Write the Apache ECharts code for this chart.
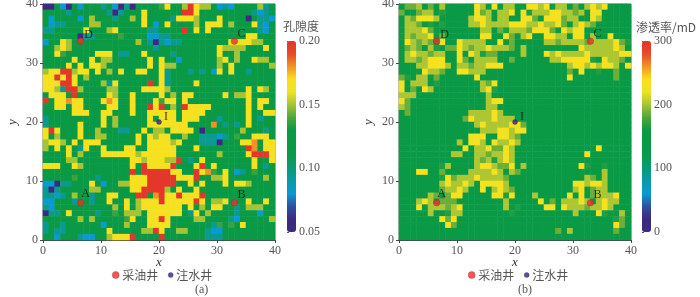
<!DOCTYPE html>
<html><head><meta charset="utf-8">
<style>html,body{margin:0;padding:0;background:#fff}#c{width:700px;height:297px}</style>
<script src="https://cdn.jsdelivr.net/npm/echarts@6/dist/echarts.min.js"></script>
</head><body><div id="c"></div>
<script>
// Cell classes, top row is y=39, 40 columns per row.
const porosityRows = [
"PP.BP.B... T.BPTP.... gy..LRyLL. BTB....LT.",
"....T..... .TPT...y.. ....RRy... ......TBT.",
".B....B.L. ..T..L.y.. ..TyyyL... y....P.TTB",
".BTT....LL .......y.B .y....L.yy y.L...yTB.",
"TT.....y.. .Ly.....TT ....R.y.y. .......TB.",
"......PTT. ...g....BB TT........ .....yy...",
"B..yL..... ......L.TP TBTT...... ..yyyyLL..",
"..LyL..... .........T .......... yLLLL...y.",
"..yg.....y yy.TT..y.. ..T....... y..L......",
".....y..y. LL......y. y..B...... Ly.L..yLL.",
"....y.y.yy L.......y. yLL....... L.y......L",
"LyyRRLyy.y .L.y..yy.. yT...T.T.B y.y..T....",
"yyRyRy.L.. .......... yT........ ..........",
"yyyRRy.... LTy.....R. yT....y... ..........",
"yyLTRRL... .LL....yyy yL........ .....y.yL.",
".yyy.R.... .yL..y.... y.L.yy.... .y.LLy....",
"R.yyOyy... yOy..y...y gyy.y..... .....y.yy.",
"..yy.yy... .yy..y..Ry R.L.Ryyyy. .....y.y..",
".....yyy.. yy...y..yy yyy.yyyy.. .....y..yy",
"T......... y.L.....y. yyy.yyy... T....y.T..",
"T.....y... y.L.....yy yyyyy....O .T.T.y....",
"yRy...y..L ...TT..y.L L.yyyy.P.. ....L...T.",
"y.L...y..L L.....y.yL yy..L..TTT BT.g..yyy.",
"LyyL.y.yyy ......y.yy yyLy...TTT P...yyO.yy",
"L.y.y.Ty.. y...yy..yy yyy...y... .....RO.yy",
"....y.L... yyyyyyLyyy yyy....... L....yRRRy",
"....LL.... .....yyLyy yLLR.T.y.. ......y..y",
"yyy..yL... .....y.Ryy yyR...yR.y ......y.T.",
".......... .....R.RRR RRyy..RyOg .y.BT.g...",
".....g...T .....yyyRR RRRyyyR..L Ly......L.",
"BBPTT...y. B..LLyyyRR RRR..y.y.. .y.yyL....",
"TPT.....LL .....yyRRR RL.y..y... ..........",
"TTBT.L..T. .yy...RR.O RyyRyyyR.. ..........",
"BB...T..T. .y..y.Lyyy RyyyyyRy.L Ly...y..y.",
"TB........ ..L.y.Lyyy yyyy.y.L.y y..T.LLL..",
"PTT.y....T ..g.LLL.yy yyyy.Ty.L. ...T...B..",
"......L.L. ....gy..yy Ry....LL.. ..TB.....L",
"T..T...... B...L...yy yy.......T g.g.y.....",
"T.TT...... .y.....LLR y..LL...TB B.........",
"..B...TBB. .LyyyR.... R.......TT T........."
];
const permeabilityRows = [
".ggL.g.L.. ...yL.y.LL ..yyLy.LL. g.LyLy....",
"g..gLL.a.. ...ygL.LLy .yaLLLyyLL gL.yy.....",
".LgyyyL... ..LyyL.LL. .yyg.yyygL L..yL.....",
".LLg.a.a.. ..LLyLLLLy yyLLyLLyg. LyLg......",
".LLLyg.... ....LL.gaL LLgyyyg.yL yy........",
".LgLLy.g.. ....yy..yg .Ly..yyLL. yy.L..y...",
".yLgLg.y.. yLLLL..y.g .....LLgLL LLgLLLLyga",
".gLg.La.gg yLgLLyLLLg .L........ .yLLLLLyL.",
".LyLLgLL.. y.yLagg... .L...yLyLL LLyLLLLLyy",
".LLgLyyy.. yg.LLLL..g ......LLyy yyya.yLLg.",
"...LLyyyL. LLgLLyyy.. .........L yyLyLyyL.y",
"....yLLg.. yyLLL..... .........g .y..a..g..",
"ga.LL.g... ...y...... .........y .......g..",
"y.LLL.a... ....Lgy... .......... ..........",
"y.g.yL.... ....Lya... .......... ..........",
"LLL....... .....L.... .......... ..........",
"yg........ .....Lyy.. .......... ..........",
"Lg........ .....LL... .......... ..........",
".g........ ..LLLLyL.. .......... ..........",
".......... .gyLLLyLLL .......... ..........",
".......... ...LyLLLLy yg........ ..........",
".......... ....LLLyyL yy........ ..........",
".......... ..yyy..yyL g......... ..........",
".......... L.yyL.yLLy L......... ..........",
".......... .y.LLyggyL .......... ....y.....",
".........L L..LLgLLyL .......... ..y.......",
".......... ...LgLaLyL .......... ..........",
".......aL. ...LyyLggy .L........ .ya..a....",
"...yy..g.. ..LLLLyL.L g......... .....L....",
".......ayg LLLyLLLLg. .......... ..Lg.L....",
".......LyL LyL.yyyyL. .......... yyLyyL....",
".......gLL yL..y.LyLg .......... Ly.gLL....",
".....Lg.gy y.....yyay ...L.....y .y.gLLLy..",
"...LyL.ggg ........L. ....y.g.LL LyL.LyLL..",
"...y.LLLgL y.......L. a....yy.yL LLgLLyL...",
".....L..aL L........a .......... L...ya..L.",
".......ygy .......... .......... .......ag.",
"........yg .......... .......... .......yg.",
".......... .......... .......g.L .......g..",
".......... .......... .......... .........."
];
const porosityLevels = {P:0.055,B:0.08,T:0.095,'.':0.118,g:0.137,L:0.15,y:0.167,O:0.18,R:0.198};
const permeabilityLevels = {'.':135,a:166,g:186,L:202,y:232};
const axisMax = 40;
const cellIndex = Array.from({length:40},(_,i)=>i);
const producers = [["A",6.5,6.3],["B",33,6.3],["C",33,33.7],["D",6.5,33.7]];
const injectors = [["I",20,20]];
const porosityRange = [0.05,0.20];
const permeabilityRange = [0,300];
const rampColors = ['#3b2a80','#3b2a80','#2f4e9f','#0a9ad2','#0a9aa8','#0a9a78','#0a9a4a','#0a9a44','#0a9a44','#4fa63c','#a5c433','#eee324','#f8e01e','#f29225','#e64a2a','#e4322b'];

const labelOffsets = {A:[5,-9],B:[7,-8],C:[7,-7],D:[8,-6],I:[7,-5]};
const serif = '"Liberation Serif","Noto Sans CJK SC",serif';
const cjk = '"Noto Sans CJK SC",serif';
const txt = '#555';
function cells(rows, levels){
  const out=[];
  rows.forEach((r,i)=>{ const s=r.replace(/ /g,''); for(let c=0;c<40;c++){ out.push([c,39-i,levels[s[c]]]); } });
  return out;
}
const panels=[
 {left:43,barLeft:287,legA:112,legB:168,rows:porosityRows,levels:porosityLevels,range:porosityRange,fmt:v=>v.toFixed(2),iv:0.05},
 {left:399,barLeft:642,legA:468,legB:524,rows:permeabilityRows,levels:permeabilityLevels,range:permeabilityRange,fmt:v=>String(v),iv:100}];
const grid=[],xAxis=[],yAxis=[],series=[],visualMap=[],legend=[];
const well=(name,list,color,size,ax,border)=>({type:'scatter',name,xAxisIndex:ax,yAxisIndex:ax,symbol:'circle',symbolSize:size,z:5,
  itemStyle:{color,borderColor:border,borderWidth:.4},
  label:{show:true,position:'inside',color:'#111',fontFamily:serif,fontSize:12,formatter:p=>p.data.name},
  data:list.map(w=>({name:w[0],value:[w[1],w[2]],label:{offset:labelOffsets[w[0]]}}))});
const axisCommon={type:'value',min:0,max:axisMax,interval:10,nameLocation:'middle',nameMoveOverlap:false,
  nameTextStyle:{fontFamily:serif,fontStyle:'italic',fontSize:13,color:'#333'},
  axisLine:{show:true,onZero:false,lineStyle:{color:'#444'}},axisTick:{show:true,length:3,lineStyle:{color:'#444'}},
  splitLine:{show:false}};
const legendItem=(name,left,size,border)=>({left,top:269,padding:0,icon:'circle',itemWidth:size,itemHeight:size,selectedMode:false,
  itemStyle:{borderWidth:.4,borderColor:border},
  data:[name],textStyle:{fontFamily:cjk,fontSize:12,color:txt,padding:[0,0,0,-2]}});
panels.forEach((p,i)=>{
  const g=i*2, a=i*3;
  grid.push({left:p.left,width:232,top:4,height:236,show:true,borderColor:'#777',borderWidth:1,backgroundColor:'#fff',outerBoundsMode:'none'});
  grid.push({left:p.barLeft,width:9,top:41,height:191,show:false,outerBoundsMode:'none'});
  // hidden band axes carry the heat cells
  xAxis.push({gridIndex:g,type:'category',data:cellIndex,show:false,position:'top'});
  yAxis.push({gridIndex:g,type:'category',data:cellIndex,show:false,position:'right'});
  // visible value axes carry the ticks and the wells
  xAxis.push(Object.assign({},axisCommon,{gridIndex:g,position:'bottom',name:'x',nameGap:16,
    axisLabel:{fontFamily:serif,fontSize:12,color:txt,margin:5,showMinLabel:true,showMaxLabel:true}}));
  yAxis.push(Object.assign({},axisCommon,{gridIndex:g,position:'left',name:'y',nameGap:24,
    axisLabel:{fontFamily:serif,fontSize:12,color:txt,margin:5,showMinLabel:true,showMaxLabel:true}}));
  // colour-bar scale
  xAxis.push({gridIndex:g+1,type:'value',show:false,min:0,max:1});
  yAxis.push({gridIndex:g+1,type:'value',position:'right',min:p.range[0],max:p.range[1],interval:p.iv,
    axisLine:{show:false},axisTick:{show:true,length:2,lineStyle:{color:'#555'}},splitLine:{show:false},
    axisLabel:{fontFamily:serif,fontSize:12,color:txt,margin:3,formatter:p.fmt,showMinLabel:true,showMaxLabel:true}});
  series.push({type:'heatmap',xAxisIndex:a,yAxisIndex:a,data:cells(p.rows,p.levels),progressive:0,emphasis:{disabled:true},silent:true,itemStyle:{borderWidth:0}});
  visualMap.push({type:'continuous',seriesIndex:series.length-1,min:p.range[0],max:p.range[1],calculable:false,realtime:false,hoverLink:false,
    left:p.barLeft,top:41,itemWidth:9,itemHeight:191,padding:0,text:null,showLabel:false,inRange:{color:rampColors}});
  series.push(well('采油井',producers,'#ea2f2b',6.5,a+1,'#a02020'));
  series.push(well('注水井',injectors,'#35237e',5,a+1,'#35237e'));
  legend.push(legendItem('采油井',p.legA,7,'#a02020'));
  legend.push(legendItem('注水井',p.legB,5,'#35237e'));
});
const option={animation:false,backgroundColor:'#fff',grid,xAxis,yAxis,series,visualMap,legend,
 title:[
  {text:'孔隙度',left:283,top:20,padding:0,textStyle:{fontFamily:cjk,fontSize:12,fontWeight:'normal',color:txt}},
  {text:'渗透率/mD',left:636,top:21,padding:0,textStyle:{fontFamily:cjk,fontSize:12,fontWeight:'normal',color:txt}},
  {text:'(a)',left:195,top:284,padding:0,textStyle:{fontFamily:serif,fontSize:12,fontWeight:'normal',color:txt}},
  {text:'(b)',left:518,top:284,padding:0,textStyle:{fontFamily:serif,fontSize:12,fontWeight:'normal',color:txt}}
 ]};
echarts.init(document.getElementById('c'),null,{renderer:'canvas'}).setOption(option);
</script>
</body></html>
